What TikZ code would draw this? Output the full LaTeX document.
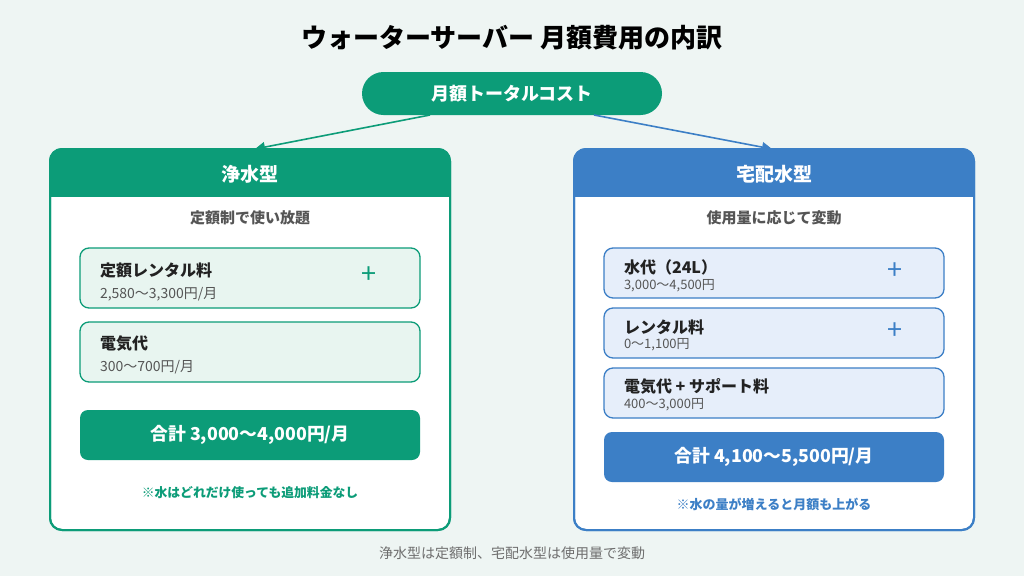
\documentclass[tikz,border=0pt]{standalone}
\usepackage{fontspec}
\setmainfont{Noto Sans CJK JP}
\usetikzlibrary{arrows.meta,calc}
\definecolor{bg}{HTML}{EEF5F3}
\definecolor{grn}{HTML}{0C9C78}
\definecolor{blu}{HTML}{3C7FC6}
\definecolor{gfill}{HTML}{E8F5F0}
\definecolor{bfill}{HTML}{E6EEFA}
\definecolor{txt}{HTML}{222222}
\definecolor{sub}{HTML}{555555}
\tikzset{
  every node/.style={inner sep=0pt, outer sep=0pt},
  cardbox/.style={draw, line width=2pt, rounded corners=12pt, fill=white, minimum width=400pt, minimum height=381pt},
  itembox/.style={draw, line width=1.3pt, rounded corners=9pt, minimum width=340pt},
  totbox/.style={rounded corners=8pt, minimum width=340pt, minimum height=50pt, text=white, font=\fontsize{17.8}{20}\selectfont\bfseries},
  ititle/.style={anchor=west, text=txt, font=\fontsize{16}{18}\selectfont\bfseries},
  isub/.style={anchor=west, text=sub, font=\fontsize{14}{16}\selectfont},
  isubr/.style={anchor=west, text=sub, font=\fontsize{13}{15}\selectfont},
  plus/.style={font=\fontsize{27}{27}\selectfont},
  conn/.style={line width=1.6pt, -{Triangle[length=10pt,width=10pt]}},
}
\begin{document}
\begin{tikzpicture}[x=1pt,y=-1pt]
\fill[bg] (0,0) rectangle (1024,576);
\useasboundingbox (0,0) rectangle (1024,576);

\node[font=\fontsize{26}{30}\selectfont\bfseries, text=black] (title) at (512,38) {ウォーターサーバー 月額費用の内訳};

\node[fill=grn, rounded corners=21.5pt, minimum width=300pt, minimum height=43pt, text=white, font=\fontsize{18}{20}\selectfont\bfseries] (pill) at (512,93.5) {月額トータルコスト};

% left card
\node[cardbox, draw=grn] (L) at (250,339.5) {};
\begin{scope}
\clip[rounded corners=12pt] (L.north west) rectangle (L.south east);
\fill[grn] (L.north west) rectangle ($(L.north east)+(0,48)$);
\end{scope}
\draw[grn, line width=2pt, rounded corners=12pt] (L.north west) rectangle (L.south east);
\node[text=white, font=\fontsize{19}{22}\selectfont\bfseries] (Lh) at (250,174) {浄水型};
\node[text=sub, font=\fontsize{15}{17}\selectfont\bfseries] (Ls) at (250,218) {定額制で使い放題};

\node[itembox, draw=grn, fill=gfill, minimum height=60pt] (L1) at (250,278) {};
\node[ititle] (L1t) at (100,270) {定額レンタル料};
\node[isub] (L1s) at (100,294) {2,580〜3,300円/月};
\node[plus, text=grn] (L1p) at (369,275) {+};

\node[itembox, draw=grn, fill=gfill, minimum height=60pt] (L2) at (250,352) {};
\node[ititle] (L2t) at (100,344) {電気代};
\node[isub] (L2s) at (100,367) {300〜700円/月};

\node[totbox, fill=grn] (Lt) at (250,435) {合計 3,000〜4,000円/月};
\node[text=grn, font=\fontsize{12.8}{15}\selectfont\bfseries] (Ln) at (250,493) {※水はどれだけ使っても追加料金なし};

% right card
\node[cardbox, draw=blu] (R) at (774,339.5) {};
\begin{scope}
\clip[rounded corners=12pt] (R.north west) rectangle (R.south east);
\fill[blu] (R.north west) rectangle ($(R.north east)+(0,48)$);
\end{scope}
\draw[blu, line width=2pt, rounded corners=12pt] (R.north west) rectangle (R.south east);
\node[text=white, font=\fontsize{19}{22}\selectfont\bfseries] (Rh) at (774,174) {宅配水型};
\node[text=sub, font=\fontsize{15}{17}\selectfont\bfseries] (Rs) at (774,218) {使用量に応じて変動};

\node[itembox, draw=blu, fill=bfill, minimum height=50pt] (R1) at (774,273) {};
\node[ititle] (R1t) at (624,267) {水代（24L）};
\node[isubr] (R1s) at (624,286) {3,000〜4,500円};
\node[plus, text=blu] (R1p) at (895,271) {+};

\node[itembox, draw=blu, fill=bfill, minimum height=50pt] (R2) at (774,333) {};
\node[ititle] (R2t) at (624,327) {レンタル料};
\node[isubr] (R2s) at (624,345) {0〜1,100円};
\node[plus, text=blu] (R2p) at (895,331) {+};

\node[itembox, draw=blu, fill=bfill, minimum height=50pt] (R3) at (774,393) {};
\node[ititle] (R3t) at (624,386) {電気代 + サポート料};
\node[isubr] (R3s) at (624,405) {400〜3,000円};

\node[totbox, fill=blu] (Rt) at (774,457) {合計 4,100〜5,500円/月};
\node[text=blu, font=\fontsize{13}{15}\selectfont\bfseries] (Rn) at (774,504) {※水の量が増えると月額も上がる};

\node[text=sub!85, font=\fontsize{14}{16}\selectfont] (foot) at (512,553) {浄水型は定額制、宅配水型は使用量で変動};

% connectors
\draw[conn, grn] ([xshift=-82pt]pill.south) -- ([xshift=5pt]L.north);
\draw[conn, blu] ([xshift=82pt]pill.south) -- ([xshift=-2pt]R.north);
\end{tikzpicture}
\end{document}
